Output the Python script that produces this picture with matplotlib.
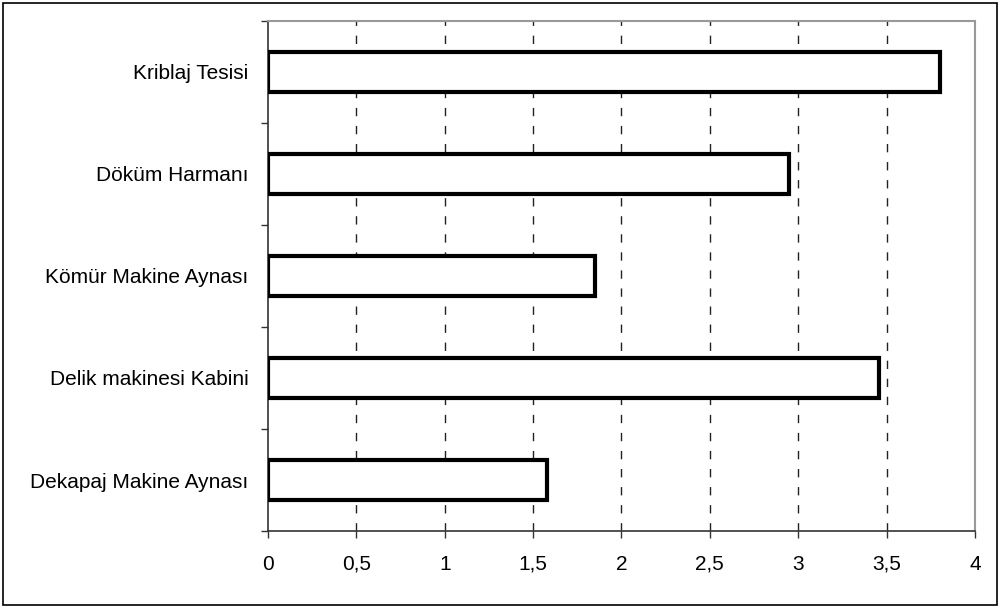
import matplotlib.pyplot as plt
import matplotlib.patches as patches
import numpy as np

plt.rcParams['font.family'] = ['Liberation Sans', 'DejaVu Sans']

# bottom to top
labels = ['Dekapaj Makine Aynası', 'Delik makinesi Kabini', 'Kömür Makine Aynası',
          'Döküm Harmanı', 'Kriblaj Tesisi']
values = [1.58, 3.46, 1.85, 2.95, 3.80]
xticks = [0, 0.5, 1, 1.5, 2, 2.5, 3, 3.5, 4]
xtick_labels = ['0', '0,5', '1', '1,5', '2', '2,5', '3', '3,5', '4']

fig = plt.figure(figsize=(10.04, 6.08), dpi=100)
ax = fig.add_axes([0.267, 0.1266, 0.704, 0.839])

y_pos = np.arange(len(labels))
ax.barh(y_pos, values, height=0.4, color='white', edgecolor='black', linewidth=3, zorder=3)

ax.set_xlim(0, 4)
ax.set_ylim(-0.5, len(labels) - 0.5)

ax.set_xticks(xticks)
ax.set_xticklabels(xtick_labels, fontsize=15)
ax.set_yticks(y_pos)
ax.set_yticklabels(labels, fontsize=15)
# category separators as tick marks
ax.set_yticks(np.arange(-0.5, len(labels)), minor=True)
ax.tick_params(axis='y', which='major', length=0, pad=14)
ax.tick_params(axis='y', which='minor', length=5, width=1, color='#333333')
ax.tick_params(axis='x', length=5, width=1, color='#333333', pad=12)

for x in xticks[1:-1]:
    ax.axvline(x, color='#222222', linewidth=1, linestyle=(0, (6, 7)), zorder=1)

for side in ['top', 'right']:
    ax.spines[side].set_color('#999999')
    ax.spines[side].set_linewidth(1.5)
for side in ['left', 'bottom']:
    ax.spines[side].set_color('#333333')
    ax.spines[side].set_linewidth(1.2)

# outer frame around the whole chart
fig.patches.append(patches.Rectangle((3 / 1004, 3 / 608), 994 / 1004, 602 / 608,
                                     transform=fig.transFigure, fill=False,
                                     edgecolor='black', linewidth=1.2))

fig.savefig('out.png', dpi=100)
